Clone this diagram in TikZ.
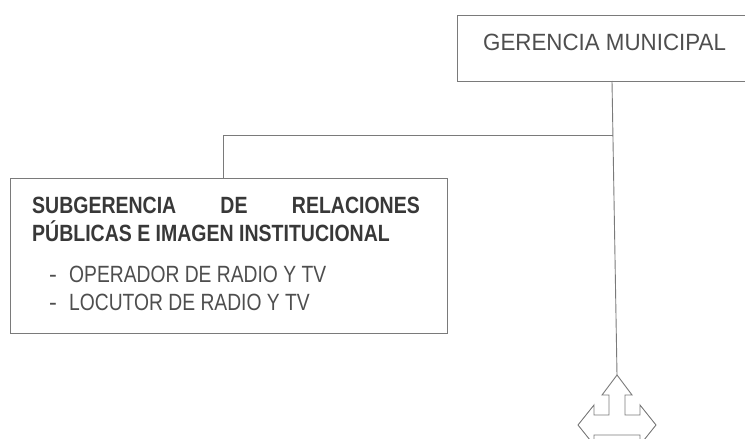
\documentclass[tikz,border=0pt]{standalone}
\usepackage{fontspec}
\usepackage{graphicx}
\setmainfont{Liberation Sans}
\definecolor{linegray}{HTML}{7A7A7A}
\definecolor{boldgray}{HTML}{383838}
\definecolor{reggray}{HTML}{4E4E4E}
\begin{document}
\begin{tikzpicture}[x=1pt,y=-1pt,
  box/.style={draw=linegray, line width=0.9pt, rectangle, inner sep=0pt},
  conn/.style={draw=linegray, line width=0.9pt},
  btxt/.style={inner sep=0pt, text=boldgray, font=\fontsize{23.5}{26}\selectfont\bfseries},
  rtxt/.style={inner sep=0pt, text=reggray, font=\fontsize{23.5}{26}\selectfont},
  gtxt/.style={inner sep=0pt, text=reggray, font=\fontsize{23.5}{26}\selectfont}]
\clip (0,0) rectangle (745,439);
\useasboundingbox (0,0) rectangle (745,439);
\fill[white] (0,0) rectangle (745,439);

% Gerencia Municipal (box runs past the right edge)
\node[box, anchor=north west, minimum width=340pt, minimum height=66pt] (ger) at (457,15) {};
\node[gtxt, anchor=base west] (gertxt) at (483,50) {\scalebox{0.95}[1]{GERENCIA MUNICIPAL}};

% Subgerencia box
\node[box, anchor=north west, minimum width=437pt, minimum height=155pt] (sub) at (10,178) {};
\node[btxt, anchor=base west] (s1) at (32,213) {\scalebox{0.83}[1]{SUBGERENCIA}};
\node[btxt, anchor=base] (s2) at (234,213) {\scalebox{0.83}[1]{DE}};
\node[btxt, anchor=base east] (s3) at (420,213) {\scalebox{0.83}[1]{RELACIONES}};
\node[btxt, anchor=base west] (s4) at (32,241) {\scalebox{0.83}[1]{PÚBLICAS E IMAGEN INSTITUCIONAL}};
\node[rtxt, anchor=base west] (d1) at (49,282) {-};
\node[rtxt, anchor=base west] (o1) at (69,282) {\scalebox{0.82}[1]{OPERADOR DE RADIO Y TV}};
\node[rtxt, anchor=base west] (d2) at (49,310) {-};
\node[rtxt, anchor=base west] (o2) at (69,310) {\scalebox{0.82}[1]{LOCUTOR DE RADIO Y TV}};

% connectors
\coordinate (apex) at (617,375);
\coordinate (gdrop) at (612,81);
\coordinate (j) at (613,135);
\coordinate (k) at (223,135);
\draw[conn] (gdrop) -- (apex);
\draw[conn] (j) -- (k) -- (k |- sub.north);

% three-way arrow outline
\draw[linegray, line width=0.9pt, line join=miter]
  (apex) -- (632,395) -- (625,395) -- (625,415) -- (640,415) -- (640,405)
  -- (656,425) -- (640,445) -- (640,435) -- (594,435) -- (594,445)
  -- (578,425) -- (594,405) -- (594,415) -- (609,415) -- (609,395)
  -- (602,395) -- cycle;
\end{tikzpicture}
\end{document}
